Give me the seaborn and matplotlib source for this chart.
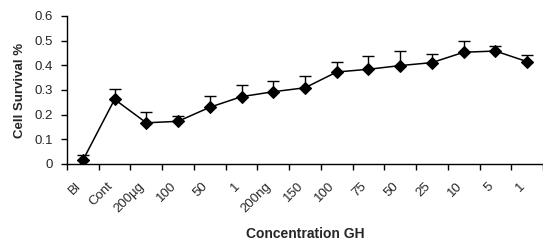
import numpy as np
import pandas as pd
import matplotlib
matplotlib.use("Agg")
import matplotlib.pyplot as plt
import matplotlib.transforms as mtransforms
import seaborn as sns

categories = ["Bl", "Cont", "200µg", "100", "50", "1", "200ng", "150", "100",
              "75", "50", "25", "10", "5", "1"]
survival = [0.015, 0.262, 0.167, 0.173, 0.230, 0.273, 0.293, 0.309, 0.373,
            0.384, 0.399, 0.411, 0.453, 0.458, 0.415]
err_top = [0.037, 0.304, 0.210, 0.195, 0.277, 0.320, 0.336, 0.357, 0.415,
           0.437, 0.458, 0.447, 0.499, 0.480, 0.443]
y_ticks = [0, 0.1, 0.2, 0.3, 0.4, 0.5, 0.6]
y_tick_labels = ["0", "0.1", "0.2", "0.3", "0.4", "0.5", "0.6"]

sns.set_theme(style="white")
plt.rcParams['font.family'] = ['Liberation Sans', 'DejaVu Sans']

df = pd.DataFrame({"pos": np.arange(len(categories)), "survival": survival,
                   "label": categories})
err_up = np.array(err_top) - np.array(survival)

fig = plt.figure(figsize=(5.43, 2.46), dpi=100)
ax = fig.add_axes([67/543, 1 - 164/246, 1 - 67/543, (164 - 16)/246])

ax.errorbar(df["pos"], df["survival"], yerr=[np.zeros_like(err_up), err_up],
            fmt="none", ecolor="black", elinewidth=1.0, capsize=4, capthick=1.0,
            zorder=2)
sns.lineplot(data=df, x="pos", y="survival", ax=ax, color="black", linewidth=1.1,
             marker="D", markersize=6.5, markeredgecolor="black",
             markerfacecolor="black", zorder=3)

ax.set_xlim(-0.5, len(categories) - 0.5)
ax.set_ylim(0, 0.6)
ax.set_yticks(y_ticks)
ax.set_yticklabels(y_tick_labels, fontsize=9.5)

ax.set_xticks(np.arange(len(categories) + 1) - 0.5)
ax.set_xticklabels([])

base = mtransforms.blended_transform_factory(ax.transData, ax.transAxes)
offset = mtransforms.ScaledTranslation(-8/100, -16/100, fig.dpi_scale_trans)
for i, lab in enumerate(df["label"]):
    ax.text(df["pos"][i], 0, lab, transform=base + offset, rotation=45,
            rotation_mode="anchor", ha="right", va="top", fontsize=9.5,
            clip_on=False)

ax.tick_params(axis="x", which="major", direction="out", length=4, width=1,
               color="black", bottom=True)
ax.tick_params(axis="y", direction="out", length=4, width=1, color="black",
               left=True, pad=6)

for s in ["top", "right"]:
    ax.spines[s].set_visible(False)
for s in ["left", "bottom"]:
    ax.spines[s].set_color("black")
    ax.spines[s].set_linewidth(1)

ax.set_xlabel("")
ax.set_ylabel("Cell Survival %", fontsize=9.5, fontweight="bold", labelpad=6)
fig.text(305/543, 1 - 234/246, "Concentration GH", fontsize=10,
         fontweight="bold", ha="center", va="center")

fig.savefig("out.png", dpi=100)
